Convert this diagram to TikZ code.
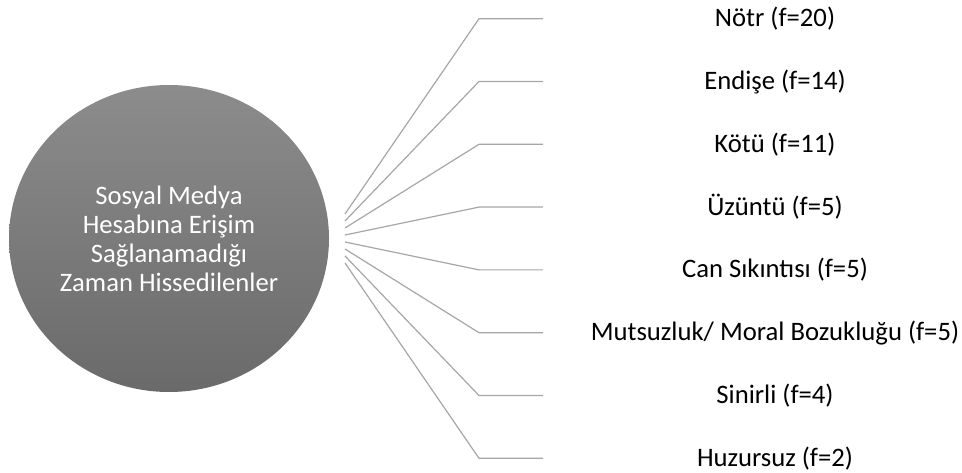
\documentclass[tikz,border=0pt]{standalone}
\usepackage{fontspec}
\setmainfont{Carlito}
\usetikzlibrary{shapes.geometric}
\definecolor{fanline}{HTML}{A6A6A6}
\definecolor{hubtop}{HTML}{8C8C8C}
\definecolor{hubbottom}{HTML}{6A6A6A}
\begin{document}
\begin{tikzpicture}[x=0.75pt,y=-0.75pt,
  hub/.style={ellipse, draw=none, top color=hubtop, bottom color=hubbottom,
    minimum width=240pt, minimum height=230.25pt, inner sep=0pt,
    text=white, align=center, font=\fontsize{20}{21.75}\selectfont},
  feeling/.style={inner sep=0pt, font=\fontsize{20}{24}\selectfont},
  fan/.style={draw=fanline, line width=0.9pt}]
  \useasboundingbox (0,0) rectangle (962,473);

  \node[hub] (hub) at (169,238.5)
    {Sosyal Medya\\Hesabına Erişim\\Sağlanamadığı\\Zaman Hissedilenler};

  \foreach \feel [count=\i from 0] in {Nötr (f=20), Endişe (f=14), Kötü (f=11),
      Üzüntü (f=5), Can Sıkıntısı (f=5), Mutsuzluk/ Moral Bozukluğu (f=5),
      Sinirli (f=4), Huzursuz (f=2)} {
    \coordinate (s\i) at (345,214+7*\i);
    \coordinate (b\i) at (479,18.7+62.8*\i);
    \coordinate (e\i) at (543,18.7+62.8*\i);
    \node[feeling] (f\i) at (775,18.7+62.8*\i) {\feel};
    \draw[fan] (s\i) -- (b\i) -- (e\i);
  }
\end{tikzpicture}
\end{document}
